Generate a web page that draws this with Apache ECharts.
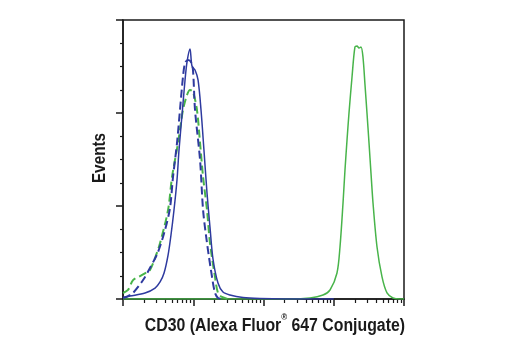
<!DOCTYPE html>
<html>
<head>
<meta charset="utf-8">
<script src="https://cdn.jsdelivr.net/npm/echarts@6/dist/echarts.min.js"></script>
<style>
  html, body { margin: 0; padding: 0; background: #fff; }
  #chart { width: 520px; height: 350px; }
</style>
</head>
<body>
<div id="chart"></div>
<script>
// Flow cytometry histograms: fluorescence intensity (log scale) vs. event count.
// Each series is a list of [intensity, events] pairs.

// CD30-stained cells, solid green
const cd30Stained = [
  [1, 0], [238, 0], [459, 1.1], [703, 4.3], [885, 9.7], [1112, 28.0], [1227, 55.9],
  [1355, 103.2], [1445, 138.7], [1545, 171.0], [1648, 200.0], [1820, 238.7],
  [2004, 271.0], [2143, 272.0], [2286, 269.9], [2443, 271.0], [2606, 260.2],
  [2786, 230.1], [2972, 200.0], [3177, 167.7], [3388, 135.5], [3622, 103.2],
  [4130, 55.9], [4864, 23.7], [5728, 6.5], [6966, 1.1], [8770, 0], [10000, 0]
];

// CD30-negative cells, solid blue
const cd30Negative = [
  [1, 1.6], [1.26, 3.2], [2.06, 6.5], [2.86, 11.8], [3.37, 18.3], [3.84, 28.0],
  [4.38, 47.3], [4.82, 68.8], [5.32, 95.7], [5.87, 128.0], [6.27, 160.2],
  [6.92, 197.9], [7.64, 235.5], [8.15, 254.8], [8.99, 268.8], [9.59, 250.5],
  [10.6, 246.2], [11.7, 235.5], [12.9, 203.2], [14.2, 160.2], [15.7, 114.0],
  [17.3, 77.4], [19.1, 43.0], [22.5, 17.2], [26.5, 7.5], [33.3, 4.3],
  [51.1, 1.6], [89.1, 0.5], [202, 0], [1000, 0]
];

// Isotype control on the positive cells, dashed green
const isotypeOnPositive = [
  [1, 6.5], [1.18, 9.7], [1.39, 20.4], [1.75, 24.7], [2.20, 29.0], [2.42, 31.2],
  [2.86, 44.1], [3.37, 60.2], [4.38, 95.7], [4.99, 131.2], [6.07, 167.7],
  [7.14, 203.2], [8.15, 219.4], [8.99, 224.7], [9.91, 222.6], [11.3, 203.2],
  [12.5, 167.7], [13.8, 131.2], [15.7, 95.7], [17.3, 60.2], [20.4, 23.7],
  [22.5, 6.5], [25.6, 2.2], [31.3, 0]
];

// Isotype control on the negative cells, dashed blue
const isotypeOnNegative = [
  [1, 1.1], [1.18, 3.2], [1.39, 6.5], [1.93, 20.4], [2.42, 33.3], [3.15, 50.5],
  [3.96, 74.2], [4.67, 98.0], [5.15, 131.2], [5.87, 167.7], [6.47, 203.2],
  [7.14, 238.7], [7.64, 253.8], [8.41, 257.0], [9.29, 254.8], [9.91, 246.2],
  [10.6, 203.2], [12.5, 149.5], [13.8, 95.7], [15.7, 60.2], [18.5, 23.7],
  [20.4, 6.5], [22.5, 1.1], [25.6, 0]
];

// Decade ticks and the in-between minor ticks of the log intensity axis
const decadeTicks = [1, 10, 100, 1000, 10000];
const minorDecadeTicks = [
  2, 3, 4, 5, 6, 7, 8, 9,
  20, 30, 40, 50, 60, 70, 80, 90,
  200, 300, 400, 500, 600, 700, 800, 900,
  2000, 3000, 4000, 5000, 6000, 7000, 8000, 9000
];

const xTitle = 'CD30 (Alexa Fluor';
const xTitleMark = '®';
const xTitleTail = ' 647 Conjugate)';
const yTitle = 'Events';

const BLUE = '#2e3a9f';
const GREEN = '#48b44a';
const INK = '#1a1a1a';
const LABEL_FONT = '"Liberation Sans", Arial, sans-serif';

const chart = echarts.init(document.getElementById('chart'), null, { renderer: 'canvas' });

function lineSeries(name, data, color, dashed, width) {
  return {
    name: name,
    type: 'line',
    data: data,
    showSymbol: false,
    smooth: 0.3,
    xAxisIndex: 0,
    yAxisIndex: 0,
    lineStyle: {
      color: color,
      width: width,
      type: dashed ? [8, 4] : 'solid'
    },
    emphasis: { disabled: true },
    silent: true
  };
}

chart.setOption({
  animation: false,
  backgroundColor: '#ffffff',
  grid: {
    left: 123, right: 116, top: 20, bottom: 51,
    show: true, borderColor: INK, borderWidth: 1.5, backgroundColor: 'transparent'
  },
  xAxis: [
    {
      type: 'log', logBase: 10, min: 1, max: 10000,
      axisLine: { show: true, lineStyle: { color: INK, width: 1.5 } },
      axisTick: { show: true, customValues: decadeTicks, length: 7, inside: false,
                  lineStyle: { color: INK, width: 1.5 } },
      axisLabel: { show: false },
      splitLine: { show: false }
    },
    {
      type: 'log', logBase: 10, min: 1, max: 10000, position: 'bottom',
      axisLine: { show: false },
      axisTick: { show: true, customValues: minorDecadeTicks, length: 4, inside: false,
                  lineStyle: { color: INK, width: 1.2 } },
      axisLabel: { show: false },
      splitLine: { show: false }
    }
  ],
  yAxis: {
    type: 'value', min: 0, max: 300, interval: 100,
    axisLine: { show: true, lineStyle: { color: INK, width: 1.5 } },
    axisTick: { show: true, length: 7, inside: false, lineStyle: { color: INK, width: 1.5 } },
    minorTick: { show: true, splitNumber: 4, length: 3, lineStyle: { color: INK, width: 1.2 } },
    axisLabel: { show: false },
    splitLine: { show: false },
    minorSplitLine: { show: false }
  },
  series: [
    lineSeries('CD30', cd30Stained, GREEN, false, 1.5),
    lineSeries('Isotype (positive)', isotypeOnPositive, GREEN, true, 2),
    lineSeries('Isotype (negative)', isotypeOnNegative, BLUE, true, 2),
    lineSeries('Negative', cd30Negative, BLUE, false, 1.5)
  ],
  graphic: [
    {
      // condensed bold title under the intensity axis, right edge on the plot's right side
      type: 'text',
      x: 405,
      y: 322,
      scaleX: 0.88,
      style: {
        text: '{t|' + xTitle + '}{r|' + xTitleMark + '}{t|' + xTitleTail + '}',
        align: 'right',
        verticalAlign: 'middle',
        rich: {
          t: { font: 'bold 18px ' + LABEL_FONT, fill: INK, verticalAlign: 'bottom', height: 20 },
          r: { font: 'bold 9px ' + LABEL_FONT, fill: INK, verticalAlign: 'top', height: 20, padding: [0, 0, 8, 0] }
        }
      }
    },
    {
      type: 'text',
      x: 100,
      y: 158,
      rotation: Math.PI / 2,
      scaleX: 0.85,
      style: {
        text: yTitle,
        font: 'bold 18px ' + LABEL_FONT,
        fill: INK,
        align: 'center',
        verticalAlign: 'middle'
      }
    }
  ]
});
</script>
</body>
</html>
